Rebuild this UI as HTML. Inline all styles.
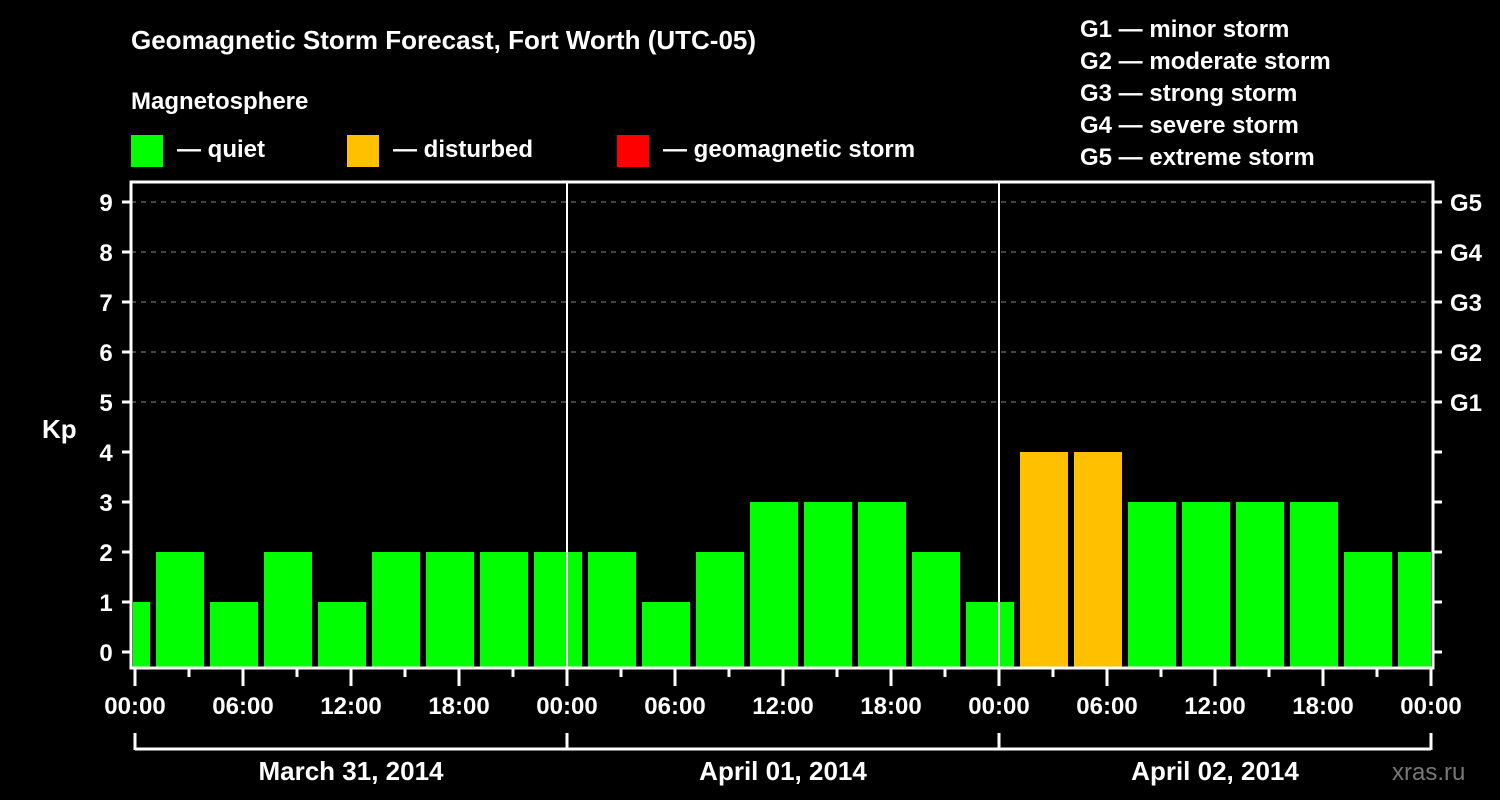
<!DOCTYPE html>
<html><head><meta charset="utf-8"><style>
body{margin:0;background:#000;}
svg{display:block;font-family:"Liberation Sans",Arial,sans-serif;font-weight:bold;}
</style></head><body>
<svg id="chart" width="1500" height="800" viewBox="0 0 1500 800" xmlns="http://www.w3.org/2000/svg">
<rect width="1500" height="800" fill="#000"/>
<text x="131" y="49" fill="#fff" font-size="26">Geomagnetic Storm Forecast, Fort Worth (UTC-05)</text>
<text x="131" y="109" fill="#fff" font-size="24">Magnetosphere</text>
<g><rect x="131" y="135" width="32" height="32" fill="#00ff00"/><text x="177" y="157" fill="#fff" font-size="24">— quiet</text></g>
<g><rect x="347" y="135" width="32" height="32" fill="#ffc000"/><text x="393" y="157" fill="#fff" font-size="24">— disturbed</text></g>
<g><rect x="617" y="135" width="32" height="32" fill="#ff0000"/><text x="663" y="157" fill="#fff" font-size="24">— geomagnetic storm</text></g>
<g fill="#fff" font-size="24">
<text x="1080" y="37">G1 — minor storm</text>
<text x="1080" y="69">G2 — moderate storm</text>
<text x="1080" y="101">G3 — strong storm</text>
<text x="1080" y="133">G4 — severe storm</text>
<text x="1080" y="165">G5 — extreme storm</text>
</g>
<text x="42" y="438" fill="#fff" font-size="26">Kp</text>
<text x="1392" y="780" fill="#777" font-size="24" font-weight="normal">xras.ru</text>
<defs><clipPath id="plotclip"><rect x="133" y="182" width="1298" height="487"/></clipPath></defs>
<g id="grid"></g><g id="bars" clip-path="url(#plotclip)"></g><g id="axes"></g>
</svg>
<script>
const kpValues=[1,2,1,2,1,2,2,2,2,2,1,2,3,3,3,2,1,4,4,3,3,3,3,2,2];
const kpStatus=["q","q","q","q","q","q","q","q","q","q","q","q","q","q","q","q","q","d","d","q","q","q","q","q","q"];
const yTicks=[0,1,2,3,4,5,6,7,8,9];
const gLabels=["G1","G2","G3","G4","G5"];
const gLevels=[5,6,7,8,9];
const dayLabels=["March 31, 2014","April 01, 2014","April 02, 2014"];
const hourLabels=["00:00","06:00","12:00","18:00"];
const NS="http://www.w3.org/2000/svg";
const x0=135,hourW=18,yZero=652,unit=50,plotTop=182,plotBot=668,left=131,right=1433;
const xh=h=>x0+h*hourW, yv=v=>yZero-v*unit;
function mk(tag,attrs,parent){const e=document.createElementNS(NS,tag);for(const k in attrs)e.setAttribute(k,attrs[k]);parent.appendChild(e);return e;}
const grid=document.getElementById('grid'),bars=document.getElementById('bars'),axes=document.getElementById('axes');
gLevels.forEach(v=>{const l=mk('line',{x1:left,x2:right,y1:yv(v),y2:yv(v),stroke:'#888','stroke-width':1,'stroke-dasharray':'5,5'},grid);

});
const colors={q:'#00ff00',d:'#ffc000',s:'#ff0000'};
kpValues.forEach((v,i)=>{const start=-2+3*i;const r=mk('rect',{x:xh(start)+3,y:yv(v),width:3*hourW-6,height:plotBot-yv(v),fill:colors[kpStatus[i]]},bars);

});
[1,2].forEach(d=>{const l=mk('line',{x1:xh(24*d),x2:xh(24*d),y1:plotTop,y2:plotBot,stroke:'#fff','stroke-width':2},axes);

});
const fr=mk('rect',{x:left,y:plotTop,width:right-left,height:plotBot-plotTop,fill:'none',stroke:'#fff','stroke-width':3},axes);


yTicks.forEach(v=>{mk('line',{x1:122,x2:left,y1:yv(v),y2:yv(v),stroke:'#fff','stroke-width':3},axes);
mk('line',{x1:right,x2:1442,y1:yv(v),y2:yv(v),stroke:'#fff','stroke-width':3},axes);
const t=mk('text',{x:106,y:yv(v)+9,fill:'#fff','font-size':24,'text-anchor':'middle'},axes);t.textContent=v;

});
gLevels.forEach((v,i)=>{const t=mk('text',{x:1450,y:yv(v)+9,fill:'#fff','font-size':24},axes);t.textContent=gLabels[i];

});
for(let h=0;h<=72;h+=3){const long=h%6===0;mk('line',{x1:xh(h),x2:xh(h),y1:plotBot,y2:long?686:677,stroke:'#fff','stroke-width':3},axes);
if(long){const t=mk('text',{x:xh(h),y:714,fill:'#fff','font-size':24,'text-anchor':'middle'},axes);t.textContent=hourLabels[(h/6)%4];

}}
mk('line',{x1:xh(0),x2:xh(72),y1:749,y2:749,stroke:'#fff','stroke-width':3},axes);
for(let d=0;d<=3;d++)mk('line',{x1:xh(24*d),x2:xh(24*d),y1:733,y2:750,stroke:'#fff','stroke-width':3},axes);
dayLabels.forEach((s,d)=>{const t=mk('text',{x:xh(24*d+12),y:780,fill:'#fff','font-size':26,'text-anchor':'middle'},axes);t.textContent=s;

});
</script>
</body></html>
